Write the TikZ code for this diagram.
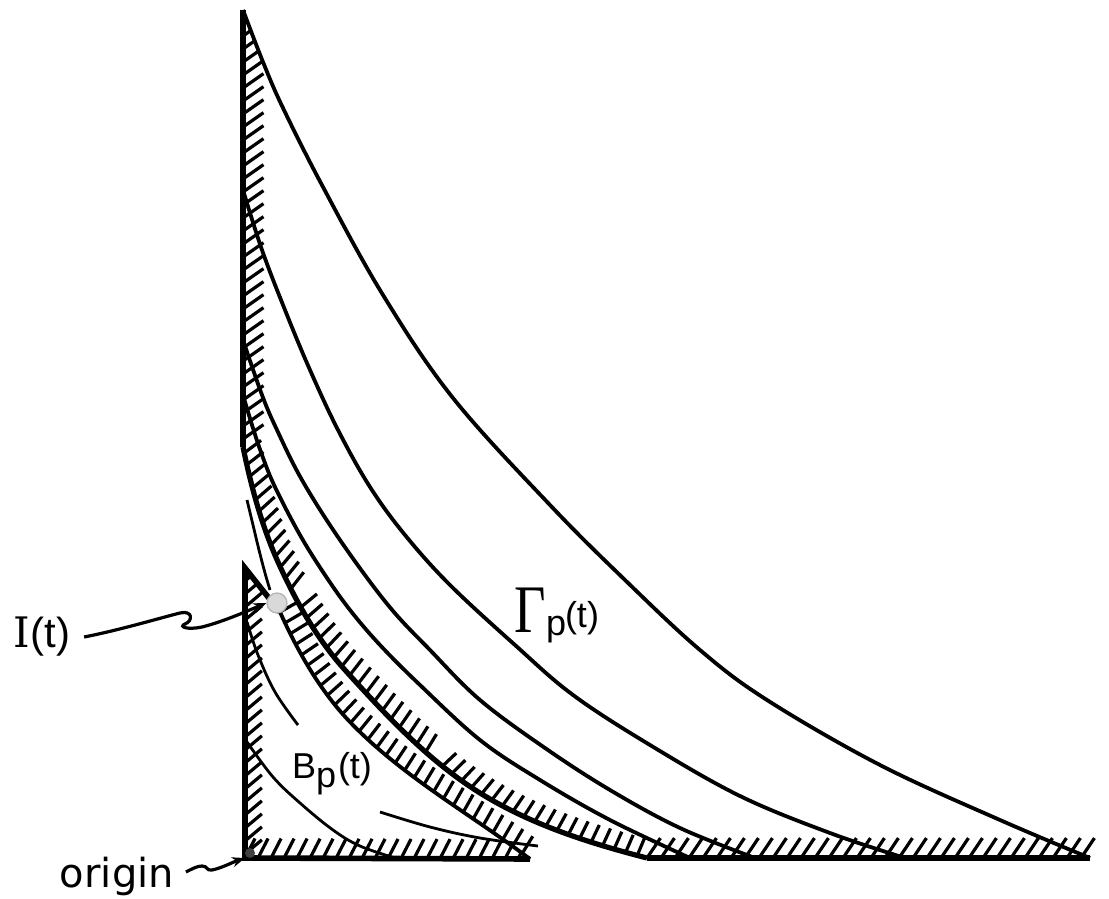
\documentclass[tikz,border=0pt]{standalone}
\usepackage{graphicx}
\usepackage{fontspec}
\setmainfont{Liberation Sans}
\newfontfamily\dvsans{DejaVu Sans}
\newfontfamily\dvserif{DejaVu Serif}
\newfontfamily\lserif{Liberation Serif}
\usetikzlibrary{decorations.markings,arrows.meta}
\tikzset{
  axisline/.style={line width=2.8pt},
  mainline/.style={line width=1.9pt},
  boundline/.style={line width=2.6pt},
  edgeline/.style={line width=1.9pt},
  thinline/.style={line width=1.4pt},
  hatchmark/.style={line width=1.6pt},
  hatch/.style n args={3}{postaction={decorate, decoration={markings,
      mark=between positions 0 and 1 step #3 with {\draw[hatchmark] (0pt,0pt) -- (#1:#2);}}}},
  dhatch/.style={postaction={decorate, decoration={markings,
      mark=between positions 0.01 and 0.26 step 6pt with {\draw[hatchmark] (0pt,0pt) -- (115:10.5pt);},
      mark=between positions 0.28 and 0.61 step 6pt with {\draw[hatchmark] (0pt,0pt) -- (100:10.5pt);},
      mark=between positions 0.63 and 0.99 step 6pt with {\draw[hatchmark] (0pt,0pt) -- (82:9.5pt);}}}},
  lbl/.style={inner sep=0pt, outer sep=0pt},
  ptr/.style={line width=1.6pt, -{Stealth[length=6.5pt,width=5pt]}},
  smoothcurve/.style={smooth, tension=0.6},
}
\begin{document}
\begin{tikzpicture}[x=0.5pt,y=-0.5pt]
\useasboundingbox (0,0) rectangle (1109,899);

\coordinate (Atop) at (243,10);
\coordinate (Akink) at (243,447);
\coordinate (Dend) at (647,858);
\coordinate (Aend) at (1090,858);
\coordinate (Tapex) at (245,568);
\coordinate (O) at (245,858);
\coordinate (Tcorner) at (530,859);
\coordinate (Tstart) at (280,612);

% hatching along the upper vertical axis, cut by the outer curve
\begin{scope}
  \clip plot[smoothcurve] coordinates {(243,10) (263,62) (283,108) (323,187) (383,295) (453,398) (550,505) (625,580) (700,650) (767,700) (880,765) (1000,820) (1090,858)} -- (1109,899) -- (0,899) -- (0,10) -- cycle;
  \path[hatch={125}{12.5pt}{6.5pt}] (Atop) -- (Akink);
\end{scope}

% big boundary: axis, curve D, bottom
\draw[axisline] (Atop) -- (Akink);
\draw[boundline, dhatch] (Akink) .. controls (251,486) and (261.6,525.6) .. (278,562)
   .. controls (295.4,600.6) and (316.6,638.6) .. (345,670)
   .. controls (385.8,715.1) and (428.2,760.7) .. (480,793)
   .. controls (530.8,824.6) and (589.1,843.1) .. (Dend);
\draw[axisline, hatch={56}{12pt}{7pt}] (Dend) -- (Aend);

% family of curves
\draw[mainline] plot[smoothcurve] coordinates {(243,10) (263,62) (283,108) (323,187) (383,295) (453,398) (550,505) (625,580) (700,650) (767,700) (880,765) (1000,820) (1090,858)};
\draw[mainline] plot[smoothcurve] coordinates {(243,190) (262,250) (285,310) (310,370) (338,430) (370,487) (405,535) (450,585) (515,645) (573,695) (650,745) (740,796) (830,833) (905,858)};
\draw[mainline] plot[smoothcurve] coordinates {(243,340) (262,395) (277,430) (302,480) (340,540) (388,605) (430,650) (480,700) (545,748) (610,790) (680,828) (755,858)};
\draw[mainline] plot[smoothcurve] coordinates {(243,395) (252,425) (262,455) (275,487) (300,535) (325,575) (350,610) (380,645) (420,685) (480,740) (540,780) (610,820) (690,858)};

% small region B_p(t): inner hatching
\begin{scope}
  \clip (Tapex) -- (Tstart) .. controls (297.8,651.6) and (320,690.7) .. (350,722)
     .. controls (402.2,776.4) and (470.3,813.9) .. (Tcorner) -- (O) -- cycle;
  \path[hatch={130}{11pt}{6.5pt}] (Tapex) -- (O);
  \path[hatch={63}{11pt}{6.5pt}] (O) -- (Tcorner);
\end{scope}
% its free boundary, hatched on the outer side
\draw[edgeline, hatch={95}{10pt}{6pt}] (Tstart) .. controls (297.8,651.6) and (320,690.7) .. (350,722)
     .. controls (402.2,776.4) and (470.3,813.9) .. (Tcorner);
\draw[axisline, line join=miter] (Tstart) -- (Tapex) -- (O) -- (Tcorner);

% thin arcs
\draw[thinline] plot[smoothcurve] coordinates {(247,500) (253,525) (259,550) (265,573) (270,590)};
\draw[thinline] plot[smoothcurve] coordinates {(247,622) (258,655) (275,692) (298,725)};
\draw[thinline] plot[smoothcurve] coordinates {(247,742) (273,777) (300,803) (333,830) (360,846) (395,858)};
\draw[thinline] plot[smoothcurve] coordinates {(380,812) (430,827) (480,838) (538,846)};

% point I(t) and origin
\node[circle, fill=gray!30, draw=gray!60, line width=0.6pt, minimum size=10pt, inner sep=0pt] (blob) at (277,603) {};
\node[circle, fill=black!75, minimum size=5pt, inner sep=0pt] (odot) at (250,853) {};

% labels
\node[lbl, font=\fontsize{21}{25}\selectfont] (lblI) at (42,637) {{\dvserif I}(t)};
\node[lbl, anchor=base west, font=\dvsans\fontsize{20}{24}\selectfont] (lblO) at (60,887) {origin};
\node[lbl, anchor=base west, font=\lserif\fontsize{34}{40}\selectfont] (gam) at (514,632) {\scalebox{0.8}[1]{Γ}};
\node[lbl, anchor=base west, font=\fontsize{18}{22}\selectfont] (gp) at (546,635) {p};
\node[lbl, anchor=base west, font=\fontsize{18}{22}\selectfont] (gt) at (565,627) {(t)};
\node[lbl, anchor=base west, font=\fontsize{18}{22}\selectfont] (bb) at (292,778) {B};
\node[lbl, anchor=base west, font=\fontsize{18}{22}\selectfont] (bp) at (316,787) {p};
\node[lbl, anchor=base west, font=\fontsize{18}{22}\selectfont] (bt) at (338,778) {(t)};

% pointers
\draw[ptr] ([xshift=7pt]lblI.east) .. controls (120,630) and (160,618) .. (180,613)
   .. controls (193,610) and (193,621) .. (185,624)
   .. controls (178,627) and (188,630) .. (202,627)
   .. controls (222,622) and (245,612) .. (blob.west);
\draw[ptr] ([xshift=6pt,yshift=2pt]lblO.east) .. controls (192,869) and (197,866) .. (202,866)
   .. controls (208,866) and (206,871) .. (212,870)
   .. controls (222,868) and (233,862) .. (O);
\end{tikzpicture}
\end{document}
